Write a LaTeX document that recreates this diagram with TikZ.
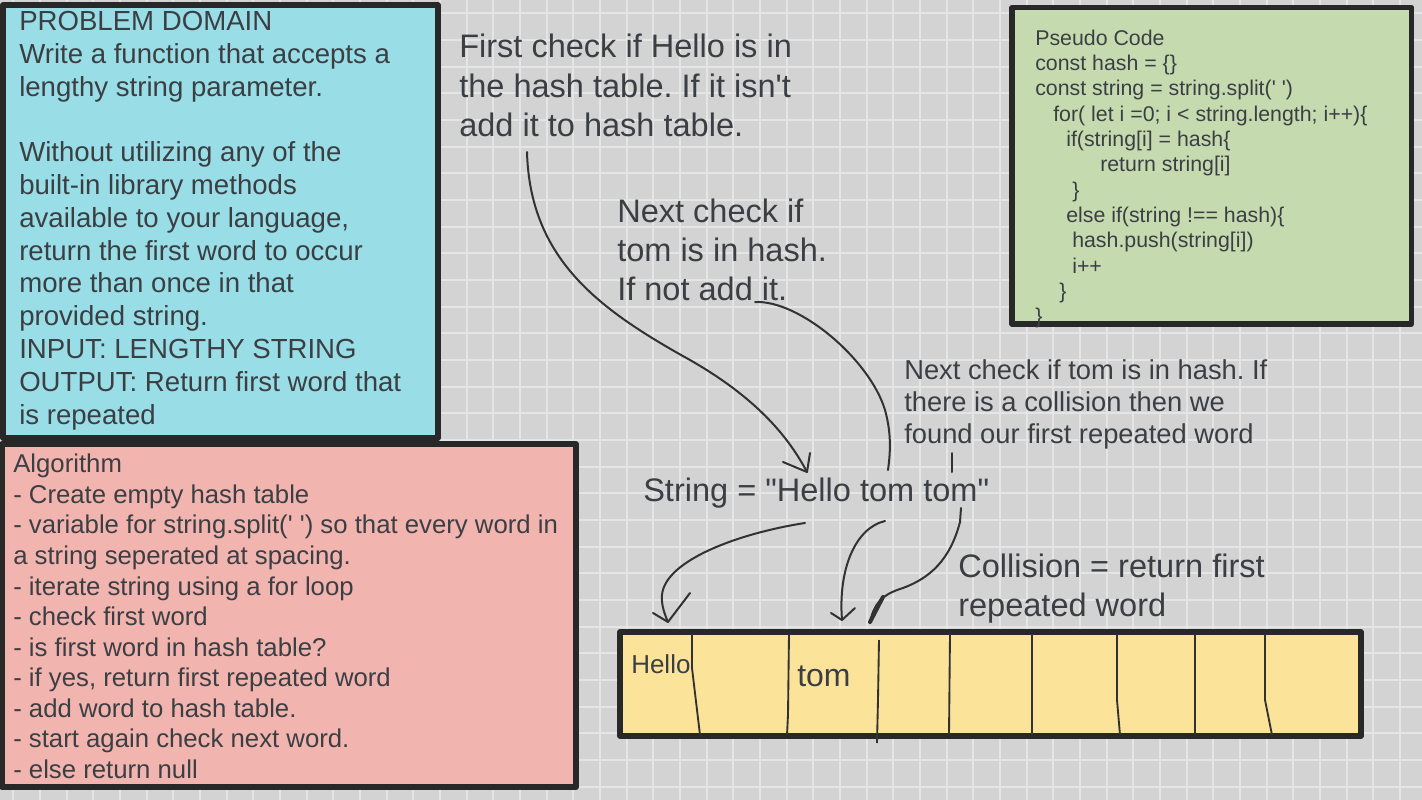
\documentclass[tikz,border=0pt]{standalone}
\usepackage{fontspec}
\setmainfont{Liberation Sans}

\definecolor{bgcol}{RGB}{211,211,211}
\definecolor{gridcol}{RGB}{229,229,229}
\definecolor{cyanfill}{RGB}{153,222,230}
\definecolor{pinkfill}{RGB}{242,180,175}
\definecolor{greenfill}{RGB}{197,219,175}
\definecolor{yellowfill}{RGB}{252,227,154}
\definecolor{edgecol}{RGB}{40,40,40}
\definecolor{inkcol}{RGB}{50,50,50}
\definecolor{textcol}{RGB}{59,63,68}

\newcommand{\ind}[1]{\hspace*{\dimexpr #1pt*3/4\relax}}
\newcommand{\sq}{\textquotesingle}
\newcommand{\dq}{\textquotedbl}
\frenchspacing

\tikzset{
  gridline/.style={draw=gridcol, line width=1.5pt},
  panel/.style={draw=edgecol, line width=4pt, line join=round},
  pen/.style={draw=inkcol, line width=1.5pt, line cap=round, line join=round},
  divider/.style={draw=inkcol, line width=1.4pt},
  note/.style={inner sep=0pt, text=textcol, align=left, anchor=north west},
  cell/.style={inner sep=0pt, text=textcol, anchor=base west},
}

\begin{document}
\begin{tikzpicture}[x=0.75pt, y=-0.75pt]
		%%%%% BACKGROUND %%%%%
		\useasboundingbox (0,0) rectangle (1422,800);
		\fill[bgcol] (0,0) rectangle (1422,800);
		\foreach \k in {0,...,53}
			\draw[gridline] ({13.333+26.667*\k},0) -- ({13.333+26.667*\k},800);
		\foreach \k in {0,...,29}
			\draw[gridline] (0,{13.333+26.667*\k}) -- (1422,{13.333+26.667*\k});
		
		%%%%% PANELS %%%%%
		\draw[panel, fill=cyanfill] (3,5) rectangle (438,438);
		\draw[panel, fill=pinkfill] (2,444) rectangle (576,787);
		\draw[panel, fill=greenfill] (1012,7.5) rectangle (1411.5,324);
		\draw[panel, fill=yellowfill] (620,632) rectangle (1361,736);
		
		% table cells
		\draw[divider] (692,634) -- (692,668) -- (700,735);
		\draw[divider] (789,634) -- (788,715) -- (787,735);
		\draw[divider] (879,640) -- (878,700) -- (877,743);
		\draw[divider] (950,634) -- (949,735);
		\draw[divider] (1032,634) -- (1032,735);
		\draw[divider] (1117,634) -- (1117,700) -- (1120,735);
		\draw[divider] (1195,634) -- (1195,735);
		\draw[divider] (1265,634) -- (1265,700) -- (1272,735);
		
		%%%%% TEXT %%%%%
		\node[note, font=\fontsize{20.7}{24.6}\selectfont] (domain) at (19,11)
			{PROBLEM DOMAIN\\Write a function that accepts a\\lengthy string parameter.\\[24.6pt]
			Without utilizing any of the\\built-in library methods\\available to your language,\\
			return the first word to occur\\more than once in that\\provided string.\\
			INPUT: LENGTHY STRING\\OUTPUT: Return first word that\\is repeated};
		
		\node[note, font=\fontsize{19.3}{22.9}\selectfont] (algo) at (13,454)
			{Algorithm\\- Create empty hash table\\- variable for string.split(\sq\ \sq) so that every word in\\
			a string seperated at spacing.\\- iterate string using a for loop\\- check first word\\
			- is first word in hash table?\\- if yes, return first repeated word\\- add word to hash table.\\
			- start again check next word.\\- else return null};
		
		\node[note, font=\fontsize{16}{19}\selectfont] (pseudo) at (1035,29.5)
			{Pseudo Code\\const hash = \{\}\\const string = string.split(\sq\ \sq)\\
			\ind{18}for( let i =0; i < string.length; i++)\{\\\ind{31}if(string[i] = hash\{\\
			\ind{65}return string[i]\\\ind{37}\}\\\ind{31}else if(string !== hash)\{\\
			\ind{37}hash.push(string[i])\\\ind{37}i++\\\ind{24}\}\\\}};
		
		\node[note, font=\fontsize{24.4}{29.6}\selectfont] (first) at (459,34)
			{First check if Hello is in\\the hash table. If it isn\sq t\\add it to hash table.};
		\node[note, font=\fontsize{24.4}{29.3}\selectfont] (second) at (617,198.5)
			{Next check if\\tom is in hash.\\If not add it.};
		\node[note, font=\fontsize{20.5}{24}\selectfont] (third) at (904,359)
			{Next check if tom is in hash. If\\there is a collision then we\\found our first repeated word};
		\node[note, font=\fontsize{24.4}{29.3}\selectfont] (str) at (643,477.5)
			{String = \dq Hello tom tom\dq};
		\node[note, font=\fontsize{24.4}{29.3}\selectfont] (collision) at (958,553.5)
			{Collision = return first\\repeated word};
		
		\node[cell, font=\fontsize{19.5}{22}\selectfont] (hello) at (631,673) {Hello};
		\node[cell, font=\fontsize{24}{28}\selectfont] (tom) at (797,686) {tom};
		
		%%%%% PEN STROKES %%%%%
		\coordinate (a1) at (527,152);
		\coordinate (a2) at (807,472);
		\draw[pen] (a1) .. controls (530,260) and (600,310) .. (690,360)
			.. controls (760,400) and (790,440) .. (a2);
		\draw[pen] (a2) -- ++(-24,-10) (a2) -- ++(3,-19);
		
		\coordinate (b1) at (755,302);
		\coordinate (b2) at (888,470);
		\draw[pen] (b1) .. controls (800,300) and (870,360) .. (885,410)
			.. controls (892,435) and (890,455) .. (b2);
		
		\coordinate (c1) at (952,453);
		\coordinate (c2) at (952,472);
		\draw[pen] (c1) -- (c2);
		
		\coordinate (d1) at (805,523);
		\coordinate (d2) at (668,622);
		\draw[pen] (d1) .. controls (740,533) and (665,560) .. (662,595)
			.. controls (661,605) and (665,615) .. (d2);
		\draw[pen] (d2) -- ++(-15,-9) (d2) -- ++(22,-29);
		
		\coordinate (e1) at (885,521);
		\coordinate (e2) at (842,620);
		\draw[pen] (e1) .. controls (855,528) and (838,570) .. (e2);
		\draw[pen] (e2) -- ++(-11,-7) (e2) -- ++(13,-12);
		
		\coordinate (f1) at (961,508);
		\coordinate (f2) at (870,622);
		\draw[pen] (f1) -- (960,522) .. controls (950,560) and (930,578) .. (903,588)
			.. controls (880,595) and (874,605) .. (f2);
		\draw[pen, line width=3pt] (f2) -- ++(13,-25);
		
		%%%%% END %%%%%
	\end{tikzpicture}
\end{document}
